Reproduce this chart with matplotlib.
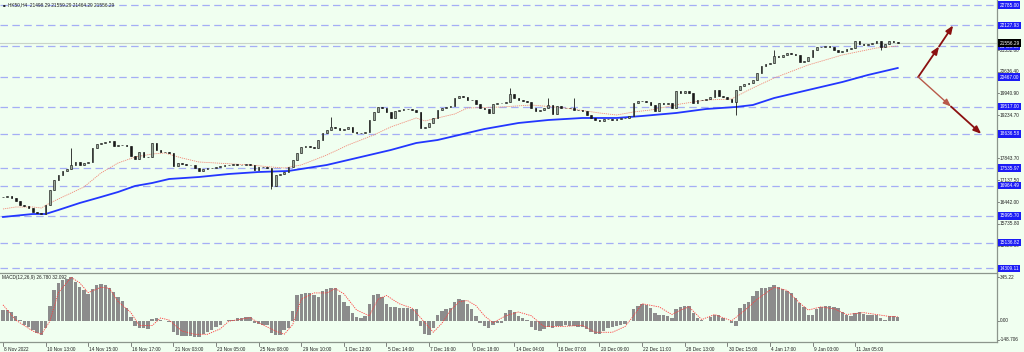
import matplotlib
matplotlib.use("Agg")
import matplotlib.pyplot as plt
import matplotlib.transforms as mtransforms

# ---------------- data ----------------
title = "HK50,H4  21498.29 21559.29 21464.29 21556.29"
macd_title = "MACD(12,26,9) 26.780 32.092"

closes = [
    16605, 16637, 16572, 16476, 16347, 16315, 16250, 16122, 16090, 16057,
    16347, 16830, 17152, 17313, 17442, 17506, 17635, 17731, 17635, 17699,
    17731, 18182, 18311, 18343, 18375, 18407, 18246, 18278, 18278, 18246,
    17924, 17828, 18053, 17892, 17892, 18343, 18117, 18053, 18053, 18021,
    17602, 17699, 17667, 17635, 17635, 17538, 17442, 17506, 17538, 17538,
    17570, 17602, 17635, 17635, 17667, 17635, 17635, 17667, 17635, 17474,
    17570, 17570, 17538, 16959, 17313, 17345, 17409, 17570, 17796, 18021,
    18214, 18246, 18214, 18182, 18439, 18665, 18761, 18858, 18826, 18761,
    18793, 18858, 18697, 18665, 18665, 18697, 19083, 19341, 19502, 19469,
    19341, 19148, 19373, 19405, 19437, 19437, 19405, 19341, 18826, 18858,
    18987, 19148, 19405, 19469, 19502, 19534, 19791, 19856, 19824, 19727,
    19727, 19598, 19469, 19437, 19309, 19598, 19630, 19630, 19663, 19920,
    19791, 19727, 19695, 19663, 19469, 19373, 19405, 19469, 19566, 19276,
    19534, 19469, 19469, 19469, 19405, 19405, 19373, 19244, 19148, 19083,
    19051, 19115, 19115, 19083, 19115, 19148, 19148, 19212, 19630, 19695,
    19695, 19663, 19566, 19373, 19630, 19598, 19630, 19469, 20017, 19952,
    20017, 19952, 19630, 19727, 19727, 19759, 19824, 20049, 19856, 19824,
    19759, 19663, 20049, 20178, 20242, 20274, 20371, 20596, 20821, 20886,
    20918, 21143, 21111, 21176, 21240, 21208, 21176, 20950, 20982, 21111,
    21336, 21433, 21433, 21465, 21433, 21336, 21272, 21304, 21369, 21401,
    21626, 21530, 21497, 21530, 21562, 21626, 21433, 21530, 21626, 21594,
    21556.29,
]

wick_hi_idx = [16, 77, 119, 128, 134, 181]
wick_hi_val = [18182, 19180, 20113, 19791, 19791, 21336]
wick_lo_idx = [63, 172, 206]
wick_lo_val = [16870, 19244, 21336]

blue_idx = [0, 7, 10, 13, 18, 23, 27, 31, 35, 39, 46, 53, 60, 67, 76, 83, 91,
            97, 102, 106, 113, 121, 128, 136, 144, 150, 158, 165, 172, 176,
            181, 189, 197, 203, 210]
blue_val = [15961, 16057, 16057, 16186, 16411, 16605, 16765, 16959, 17055,
            17184, 17248, 17345, 17409, 17442, 17635, 17860, 18117, 18343,
            18439, 18568, 18793, 18987, 19083, 19148, 19148, 19212, 19309,
            19437, 19502, 19566, 19791, 20049, 20306, 20532, 20757]

red_idx = [0, 3, 7, 9, 11, 15, 19, 23, 27, 31, 35, 38, 42, 46, 50, 58, 63, 66,
           70, 76, 81, 87, 91, 97, 99, 102, 106, 109, 117, 124, 132, 140, 144,
           148, 152, 159, 165, 171, 175, 181, 189, 197, 205, 210]
red_val = [16218, 16282, 16282, 16250, 16411, 16669, 16926, 17377, 17699,
           17892, 17989, 18021, 17860, 17731, 17699, 17635, 17570, 17538,
           17635, 17957, 18278, 18600, 18858, 19148, 19051, 19148, 19276,
           19469, 19502, 19566, 19469, 19309, 19244, 19341, 19405, 19598,
           19727, 19759, 20049, 20436, 20854, 21176, 21401, 21465]

macd_hist = [
    84, 84, 70, 40, 10, -30, -50, -70, -95, -115,
    -60, 120, 240, 300, 325, 330, 345, 310, 270, 240,
    213, 250, 285, 290, 285, 260, 225, 185, 160, 100,
    30, -40, -55, -60, -63, 15, 25, 5, -5, -10,
    -90, -110, -120, -120, -118, -125, -125, -100, -90, -70,
    -50, -30, 0, 5, 8, 20, 25, 28, 30, -15,
    -25, -30, -35, -95, -115, -110, -70, -55, 80, 200,
    215, 220, 220, 200, 185, 235, 250, 260, 255, 200,
    150, 120, 60, 30, 25, 40, 135, 200, 215, 190,
    130, 110, 110, 105, 100, 100, 95, 90, -40, -100,
    -115, -60, 50, 80, 95, 100, 150, 170, 165, 130,
    90, 40, -20, -40, -60, -30, -15, -15, 60, 85,
    70, 35, 20, 10, -45, -75, -80, -65, -50, -55,
    -40, -40, -35, -40, -40, -45, -45, -65, -90, -105,
    -100, -80, -60, -50, -40, -35, -25, -5, 90, 120,
    135, 125, 100, 60, 50, 45, 40, 25, 95, 110,
    115, 120, 60, 20, 5, 0, 30, 50, 45, 20,
    0, -20, -40, 100, 130, 150, 195, 235, 255, 262,
    270, 280, 265, 250, 235, 220, 180, 140, 110, 50,
    45, 90, 110, 120, 120, 110, 100, 70, 45, 40,
    65, 70, 55, 50, 50, 45, 25, 10, 35, 35,
    26.78,
]

sig_idx = [0, 3, 7, 9, 11, 13, 16, 18, 20, 23, 25, 27, 30, 32, 35, 37, 39, 42,
           45, 48, 51, 53, 58, 60, 64, 66, 68, 70, 73, 76, 78, 80, 83, 86, 88,
           90, 93, 96, 98, 101, 103, 105, 107, 109, 111, 113, 115, 118, 121,
           124, 127, 131, 136, 139, 143, 146, 148, 150, 154, 157, 159, 161,
           164, 167, 171, 174, 177, 181, 184, 187, 189, 192, 195, 198, 202,
           205, 208, 210]
sig_val = [126, 6, -80, -106, -3, 222, 343, 300, 222, 265, 256, 153, 66, -37,
           -37, 23, 6, -80, -106, -106, -63, -3, 25, -15, -80, -106, -30, 170,
           220, 220, 255, 213, 85, 40, 170, 200, 135, 100, 25, -90, -20, 80,
           150, 160, 120, 40, -15, 40, 70, 40, -45, -45, -35, -90, -90, -45,
           40, 135, 110, 50, 85, 110, 10, 50, 0, 80, 170, 265, 240, 140, 85,
           110, 95, 50, 65, 50, 35, 32.09]

level_vals = [22785.00, 22127.93, 21450.00, 20467.00, 19517.00, 18636.58,
              17535.97, 16964.49, 15995.70, 15136.82, 14309.11]
price_ticks = [21332.00, 20636.40, 19940.90, 19234.70, 17843.70,
               17137.50, 16442.00, 15735.80, 15029.60]
macd_ticks = [345.22, 0.00, -148.706]
macd_tick_labels = ["345.22", "0.00", "-148.706"]

time_labels = ["8 Nov 2022", "10 Nov 13:00", "14 Nov 15:00", "16 Nov 17:00",
               "21 Nov 03:00", "23 Nov 05:00", "25 Nov 08:00", "29 Nov 10:00",
               "1 Dec 12:00", "5 Dec 14:00", "7 Dec 16:00", "9 Dec 18:00",
               "14 Dec 04:00", "16 Dec 07:00", "20 Dec 09:00", "22 Dec 11:00",
               "28 Dec 13:00", "30 Dec 15:00", "4 Jan 17:00", "9 Jan 03:00",
               "11 Jan 05:00"]
label_step = 10

# arrows (projection drawn right of the last bar)
arrow_apex = (214.8, 20467.00)
arrow_up = [(219.7, 21450.00), (223.0, 22127.93)]
arrow_dn = [(222.5, 19517.00), (229.6, 18636.58)]

# ---------------- style ----------------
BG = "#f0fff0"
FONT = ["Liberation Sans", "DejaVu Sans"]
plt.rcParams["font.family"] = FONT
FS = 3.4

fig = plt.figure(figsize=(10.24, 3.52), dpi=100, facecolor=BG)
W, H = 1024.0, 352.0
ax = fig.add_axes([0 / W, 75 / H, 997 / W, 277 / H], facecolor=BG)
axm = fig.add_axes([0 / W, 10 / H, 997 / W, 69 / H], facecolor=BG)

n = len(closes)
xs = list(range(n))
xlim = (-0.7, 233.3)

# main: level lines
for v in level_vals:
    ax.axhline(v, color="#a4aef5", lw=0.9, dashes=(6, 3.5), zorder=1)
ax.axhline(closes[-1], color="#c9d3c9", lw=0.8, zorder=1)

# candles
opens = [closes[0]] + closes[:-1]
his = [max(o, c) for o, c in zip(opens, closes)]
los = [min(o, c) for o, c in zip(opens, closes)]
for i, v in zip(wick_hi_idx, wick_hi_val):
    his[i] = max(his[i], v)
for i, v in zip(wick_lo_idx, wick_lo_val):
    los[i] = min(los[i], v)
ax.vlines(xs, los, his, color="#1a1a1a", lw=0.6, zorder=4)
bodies = [max(abs(c - o), 12) for o, c in zip(opens, closes)]
bottoms = [min(o, c) for o, c in zip(opens, closes)]
colors = ["#9aa89a" if c >= o else "#1a1a1a" for o, c in zip(opens, closes)]
ax.bar(xs, bodies, bottom=bottoms, width=0.4, color=colors,
       edgecolor="#1a1a1a", linewidth=0.45, zorder=5)

# moving averages
ax.plot(blue_idx, blue_val, color="#2336ff", lw=1.3, zorder=3)
ax.plot(red_idx, red_val, color="#f08a78", lw=0.6, ls=(0, (1.5, 1)), zorder=3)

# arrows
def arrow(a, b, col, lw):
    ax.annotate("", xy=b, xytext=a, zorder=6,
                arrowprops=dict(arrowstyle="-|>,head_length=0.45,head_width=0.18",
                                color=col, lw=lw, shrinkA=0, shrinkB=0))
arrow(arrow_apex, arrow_up[0], "#8b1010", 1.3)
arrow(arrow_up[0], arrow_up[1], "#8b1010", 1.3)
arrow(arrow_apex, arrow_dn[0], "#b85a4a", 1.0)
arrow(arrow_dn[0], arrow_dn[1], "#8b1010", 1.3)

ax.set_xlim(*xlim)
ax.set_ylim(14029, 22946)
ax.set_xticks([])
ax.set_yticks([])
for s in ["left", "top"]:
    ax.spines[s].set_visible(False)
for s in ["right", "bottom"]:
    ax.spines[s].set_color("#8c968c")
    ax.spines[s].set_linewidth(0.9)

tr = mtransforms.blended_transform_factory(ax.transAxes, ax.transData)
for v in price_ticks:
    ax.text(1.0025, v, f"{v:.2f}", transform=tr, fontsize=FS, color="#202020",
            ha="left", va="center", clip_on=False, zorder=7)
    ax.plot([1.0, 1.002], [v, v], transform=tr, color="#505050", lw=0.5,
            clip_on=False)
for v in level_vals:
    ax.text(1.0025, v, f"{v:.2f}", transform=tr, fontsize=FS, color="white",
            ha="left", va="center", clip_on=False, zorder=8,
            bbox=dict(boxstyle="square,pad=0.25", fc="#1c1cf5", ec="none"))
ax.text(1.0025, closes[-1], f"{closes[-1]:.2f}", transform=tr, fontsize=FS,
        color="white", ha="left", va="center", clip_on=False, zorder=9,
        bbox=dict(boxstyle="square,pad=0.25", fc="#000000", ec="none"))

# title
fig.text(3 / W, 1 - 5 / H, "\u25a0", fontsize=3.2, color="#202020",
         ha="left", va="center")
fig.text(8 / W, 1 - 5 / H, title, fontsize=FS, color="#202020",
         ha="left", va="center")

# MACD panel
axm.bar(xs, macd_hist, width=0.8, color="#8c8c8c", edgecolor="none", zorder=2)
axm.plot(sig_idx, sig_val, color="#ff3c3c", lw=0.6, ls=(0, (1.5, 1.2)), zorder=3)
axm.set_xlim(*xlim)
axm.set_ylim(-166.6, 377)
axm.set_xticks([])
axm.set_yticks([])
for s in ["left", "top", "bottom", "right"]:
    axm.spines[s].set_color("#8c968c")
    axm.spines[s].set_linewidth(0.9)
axm.spines["left"].set_visible(False)
trm = mtransforms.blended_transform_factory(axm.transAxes, axm.transData)
for v, lab in zip(macd_ticks, macd_tick_labels):
    axm.text(1.0025, v, lab, transform=trm, fontsize=FS, color="#202020",
             ha="left", va="center", clip_on=False)
    axm.plot([1.0, 1.002], [v, v], transform=trm, color="#505050", lw=0.5,
             clip_on=False)
axm.text(2 / 997, 0.93, macd_title, transform=axm.transAxes, fontsize=FS,
         color="#202020", ha="left", va="center")

# time labels
trx = mtransforms.blended_transform_factory(axm.transData, axm.transAxes)
for k, lab in enumerate(time_labels):
    x = k * label_step
    axm.plot([x, x], [0, -0.06], transform=trx, color="#505050", lw=0.5,
             clip_on=False)
    axm.text(x + 0.3, -0.075, lab, transform=trx, fontsize=FS, color="#202020",
             ha="left", va="top", clip_on=False)

fig.savefig("out.png", dpi=100, facecolor=BG)
